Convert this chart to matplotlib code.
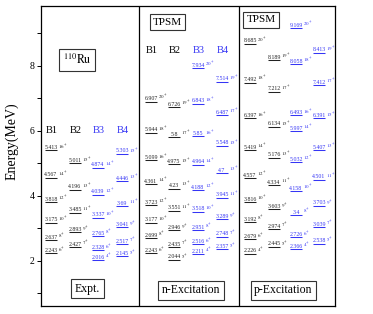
import matplotlib
matplotlib.use('Agg')
import matplotlib.pyplot as plt

plt.rcParams['font.family'] = ['Liberation Serif', 'DejaVu Serif']
plt.rcParams['mathtext.fontset'] = 'stix'

BLUE = '#3535f5'
DARK = '#222222'

band_names = ['B1', 'B2', 'B3', 'B4']

# experiment
expt_b1_e = [5.413, 4.567, 3.818, 3.175, 2.637, 2.243]
expt_b1_j = [16, 14, 12, 10, 8, 6]
expt_b2_e = [5.011, 4.196, 3.485, 2.893, 2.427]
expt_b2_j = [15, 13, 11, 9, 7]
expt_b3_e = [4.874, 4.039, 3.337, 2.765, 2.328, 2.016]
expt_b3_j = [14, 12, 10, 8, 6, 4]
expt_b4_e = [5.303, 4.446, 3.69, 3.041, 2.517, 2.145]
expt_b4_j = [15, 13, 11, 9, 7, 5]

# TPSM, neutron excitation
n_b1_e = [6.907, 5.944, 5.099, 4.361, 3.723, 3.177, 2.699, 2.243]
n_b1_j = [20, 18, 16, 14, 12, 10, 8, 6]
n_b2_e = [6.726, 5.8, 4.975, 4.23, 3.551, 2.946, 2.435, 2.044]
n_b2_j = [19, 17, 15, 13, 11, 9, 7, 5]
n_b3_e = [7.934, 6.843, 5.85, 4.964, 4.188, 3.518, 2.951, 2.516, 2.211]
n_b3_j = [20, 18, 16, 14, 12, 10, 8, 6, 4]
n_b4_e = [7.514, 6.487, 5.548, 4.7, 3.945, 3.289, 2.748, 2.357]
n_b4_j = [19, 17, 15, 13, 11, 9, 7, 5]

# TPSM, proton excitation
p_b1_e = [8.685, 7.492, 6.397, 5.419, 4.557, 3.816, 3.192, 2.679, 2.226]
p_b1_j = [20, 18, 16, 14, 12, 10, 8, 6, 4]
p_b2_e = [8.189, 7.212, 6.134, 5.176, 4.334, 3.603, 2.974, 2.445]
p_b2_j = [19, 17, 15, 13, 11, 9, 7, 5]
p_b3_e = [9.169, 8.058, 6.493, 5.997, 5.032, 4.158, 3.4, 2.726, 2.366]
p_b3_j = [20, 18, 16, 14, 12, 10, 8, 6, 4]
p_b4_e = [8.413, 7.412, 6.391, 5.407, 4.501, 3.703, 3.039, 2.538]
p_b4_j = [19, 17, 15, 13, 11, 9, 7, 5]


def draw_band(ax, xc, energies, spins, color):
    for e, j in zip(energies, spins):
        ax.plot([xc - 6, xc + 6], [e, e], color=color, lw=0.75, solid_capstyle='butt')
        ax.text(xc, e + 0.01, f'{e:g}', ha='center', va='bottom',
                fontsize=4.2, color=color)
        ax.text(xc + 6.8, e - 0.03, rf'${j}^{{+}}$', ha='left', va='bottom',
                fontsize=3.6, color=color)


def main():
    fig = plt.figure(figsize=(3.73, 3.14), dpi=100)
    ax = fig.add_axes([41 / 373, 8 / 314, 294 / 373, 300 / 314])
    ax.set_xlim(41, 335)
    ax.set_ylim(0.615, 9.846)

    ax.set_xticks([])
    ax.set_yticks([2, 4, 6, 8])
    ax.set_yticks([1, 3, 5, 7, 9], minor=True)
    ax.tick_params(axis='y', which='both', direction='out', length=3,
                   width=0.7, labelsize=7, pad=1.5)
    for s in ax.spines.values():
        s.set_linewidth(0.9)
    ax.set_ylabel('Energy(MeV)', fontsize=10)
    ax.yaxis.set_label_coords(-0.075, 0.55)

    ax.axvline(139, color='k', lw=0.9)
    ax.axvline(239, color='k', lw=0.9)

    cols_expt = [51, 75, 98, 122]
    cols_n = [151, 174, 198, 222]
    cols_p = [250, 274, 296, 319]
    colors = [DARK, DARK, BLUE, BLUE]

    expt = [(expt_b1_e, expt_b1_j), (expt_b2_e, expt_b2_j),
            (expt_b3_e, expt_b3_j), (expt_b4_e, expt_b4_j)]
    nexc = [(n_b1_e, n_b1_j), (n_b2_e, n_b2_j), (n_b3_e, n_b3_j), (n_b4_e, n_b4_j)]
    pexc = [(p_b1_e, p_b1_j), (p_b2_e, p_b2_j), (p_b3_e, p_b3_j), (p_b4_e, p_b4_j)]

    for cols, data in [(cols_expt, expt), (cols_n, nexc), (cols_p, pexc)]:
        for xc, (e, j), c in zip(cols, data, colors):
            draw_band(ax, xc, e, j, c)

    # band labels
    for xc, name, c in zip(cols_expt, band_names, colors):
        ax.text(xc + 1, 6.03, name, ha='center', va='center', fontsize=7.5,
                color='k' if c == DARK else BLUE)
    for xc, name, c in zip(cols_n, band_names, colors):
        ax.text(xc + 0.5, 8.49, name, ha='center', va='center', fontsize=7.5,
                color='k' if c == DARK else BLUE)

    box = dict(boxstyle='square,pad=0.3', fc='white', ec='#333333', lw=0.8)
    ax.text(77, 8.18, r'$^{110}\mathrm{Ru}$', ha='center', va='center',
            fontsize=8.5, bbox=box)
    ax.text(167.5, 9.35, 'TPSM', ha='center', va='center', fontsize=8, bbox=box)
    ax.text(261, 9.42, 'TPSM', ha='center', va='center', fontsize=8, bbox=box)

    ax.text(87.5, 1.14, 'Expt.', ha='center', va='center', fontsize=8.5, bbox=box)
    ax.text(191, 1.10, 'n-Excitation', ha='center', va='center', fontsize=8.5, bbox=box)
    ax.text(283.5, 1.10, 'p-Excitation', ha='center', va='center', fontsize=8.5, bbox=box)

    fig.savefig('out.png', dpi=100)


if __name__ == '__main__':
    main()
